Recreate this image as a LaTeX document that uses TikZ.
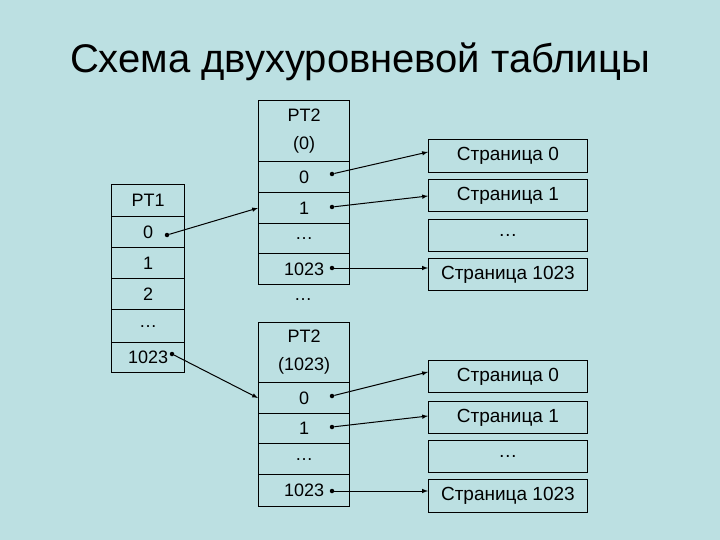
\documentclass[tikz,border=0pt]{standalone}
\usepackage{fontspec}
\setmainfont{Liberation Sans}
\definecolor{bg}{HTML}{BCE0E2}
\begin{document}
\begin{tikzpicture}[x=1pt,y=-1pt,
  cell/.style={draw=black,line width=1.2pt,inner sep=0pt,font=\fontsize{18}{20}\selectfont},
  pg/.style={draw=black,line width=0.8pt,inner sep=0pt,font=\fontsize{19}{21}\selectfont},
  dot/.style={circle,fill=black,inner sep=0pt,minimum size=4.5pt},
  arr/.style={-latex,line width=1pt},
  lbl/.style={font=\fontsize{18}{20}\selectfont,inner sep=0pt}]
\fill[bg] (0,0) rectangle (720,540);
\useasboundingbox (0,0) rectangle (720,540);
\node[font=\fontsize{40}{46}\selectfont] (title) at (360,62) {Схема двухуровневой таблицы};
% PT1
\newcommand\mycell[6]{\node[cell,minimum width=#3-#2,minimum height=#5-#4,anchor=north west] (#1) at (#2,#4) {#6};}
\mycell{a}{111}{184}{184}{216}{PT1}
\mycell{a0}{111}{184}{216}{247}{0}
\mycell{a1}{111}{184}{247}{278}{1}
\mycell{a2}{111}{184}{278}{309}{2}
\mycell{ad}{111}{184}{309}{342}{\dots}
\mycell{aL}{111}{184}{342}{372}{1023}
% PT2 (0)
\mycell{b}{258}{349}{100}{161}{\begin{tabular}{@{}c@{}}PT2\\[8pt](0)\end{tabular}}
\mycell{b0}{258}{349}{161}{192}{0}
\mycell{b1}{258}{349}{192}{223}{1}
\mycell{bd}{258}{349}{223}{253}{\dots}
\mycell{bL}{258}{349}{253}{284}{1023}
\node[lbl] (dots) at (303,300) {\dots};
% PT2 (1023)
\mycell{c}{258}{349}{322}{382}{\begin{tabular}{@{}c@{}}PT2\\[8pt](1023)\end{tabular}}
\mycell{c0}{258}{349}{382}{413}{0}
\mycell{c1}{258}{349}{413}{443}{1}
\mycell{cd}{258}{349}{443}{474}{\dots}
\mycell{cL}{258}{349}{474}{506}{1023}
% pages
\newcommand\mypg[4]{\node[pg,minimum width=159,minimum height=#3-#2,anchor=north west] (#1) at (428,#2) {#4};}
\mypg{p0}{139}{172}{Страница 0}
\mypg{p1}{179}{211}{Страница 1}
\mypg{pd}{219}{251}{\dots}
\mypg{pL}{258}{290}{Страница 1023}
\mypg{q0}{360}{392}{Страница 0}
\mypg{q1}{401}{433}{Страница 1}
\mypg{qd}{440}{472}{\dots}
\mypg{qL}{479}{512}{Страница 1023}
% dots
\node[dot] (da0) at (167,235) {};
\node[dot] (daL) at (172,354) {};
\node[dot] (db0) at (332,174) {};
\node[dot] (db1) at (332,207) {};
\node[dot] (dbL) at (332,268) {};
\node[dot] (dc0) at (332,396) {};
\node[dot] (dc1) at (332,427) {};
\node[dot] (dcL) at (332,491) {};
\coordinate (tb) at (258,208);
\coordinate (tc) at (258,398);
\draw[arr] (da0) -- (tb);
\draw[arr] (daL) -- (tc);
\draw[arr] (db0) -- (p0.west|-0,152);
\draw[arr] (db1) -- (p1.west|-0,196);
\draw[arr] (dbL) -- (pL.west|-dbL);
\draw[arr] (dc0) -- (q0.west|-0,372);
\draw[arr] (dc1) -- (q1.west|-0,416);
\draw[arr] (dcL) -- (qL.west|-dcL);
\end{tikzpicture}
\end{document}
